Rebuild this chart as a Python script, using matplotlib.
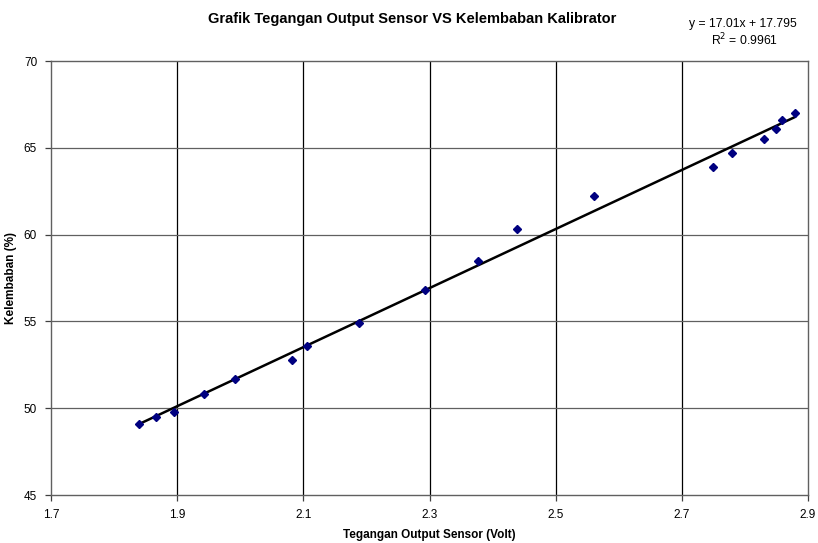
import numpy as np
import matplotlib
matplotlib.use("Agg")
import matplotlib.pyplot as plt

plt.rcParams['font.family'] = ['Liberation Sans', 'DejaVu Sans']

# Data
tegangan = [1.840, 1.866, 1.895, 1.943, 1.991, 2.082, 2.106, 2.188, 2.293,
            2.377, 2.439, 2.560, 2.749, 2.780, 2.830, 2.849, 2.859, 2.879]
kelembaban = [49.1, 49.5, 49.8, 50.8, 51.7, 52.8, 53.6, 54.9, 56.8,
              58.5, 60.3, 62.2, 63.9, 64.7, 65.5, 66.1, 66.6, 67.0]

# Trendline as reported on the chart
slope = 17.01
intercept = 17.795
r2 = 0.9961

xticks = [1.7, 1.9, 2.1, 2.3, 2.5, 2.7, 2.9]
yticks = [45, 50, 55, 60, 65, 70]

fig = plt.figure(figsize=(8.18, 5.43), dpi=100)
ax = fig.add_axes([51/818, 48/543, 757/818, 434/543])

# grid
for xv in xticks[1:-1]:
    ax.axvline(xv, color='black', lw=0.9, zorder=1)
for yv in yticks[1:-1]:
    ax.axhline(yv, color='#606060', lw=0.9, zorder=1)

# trendline
x = np.array(tegangan)
xl = np.array([x.min(), x.max()])
ax.plot(xl, slope*xl + intercept, color='black', lw=1.8, zorder=2)

# data points
ax.plot(tegangan, kelembaban, linestyle='none', marker='D', markersize=4.2,
        color='#000080', markeredgecolor='#000080', zorder=3)

ax.set_xlim(1.7, 2.9)
ax.set_ylim(45, 70)
ax.set_xticks(xticks)
ax.set_yticks(yticks)
ax.set_xticklabels([f"{v:.1f}" for v in xticks])
ax.tick_params(axis='both', direction='out', length=4, width=0.9,
               labelsize=8.5, color='#404040', pad=6)
for s in ax.spines.values():
    s.set_color('#606060')
    s.set_linewidth(1.0)

ax.set_xlabel("Tegangan Output Sensor (Volt)", fontsize=8.5, fontweight='bold')
ax.xaxis.set_label_coords(0.5, -(529 - 495) / 434)
ax.set_ylabel("Kelembaban (%)", fontsize=8.5, fontweight='bold')
ax.yaxis.set_label_coords(-(51 - 17) / 757, 0.5)

fig.text(412/818, 1 - 23/543, "Grafik Tegangan Output Sensor VS Kelembaban Kalibrator",
         ha='center', va='baseline', fontsize=10.5, fontweight='bold')
fig.text(743/818, 1 - 27/543, f"y = {slope}x + {intercept}",
         ha='center', va='baseline', fontsize=8.7)
fig.text(744/818, 1 - 45/543, f"R$^2$ = {r2}",
         ha='center', va='baseline', fontsize=8.7)

fig.savefig("out.png", dpi=100)
